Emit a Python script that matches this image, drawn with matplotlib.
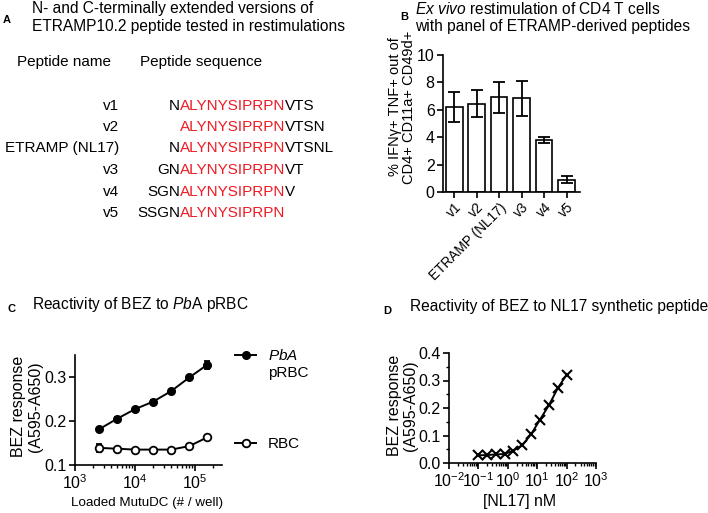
import numpy as np
import matplotlib
matplotlib.use("Agg")
import matplotlib.pyplot as plt
from matplotlib.ticker import LogLocator, NullFormatter, MultipleLocator

plt.rcParams['font.family'] = ['Liberation Sans', 'DejaVu Sans']
plt.rcParams['mathtext.fontset'] = 'custom'
plt.rcParams['mathtext.rm'] = 'Liberation Sans'
plt.rcParams['mathtext.it'] = 'Liberation Sans:italic'
plt.rcParams['mathtext.default'] = 'regular'

# ---- painel A: sequencias
pep_names = ["v1", "v2", "ETRAMP (NL17)", "v3", "v4", "v5"]
pep_pre = ["N", "", "N", "GN", "SGN", "SSGN"]
pep_core = "ALYNYSIPRPN"
pep_post = ["VTS", "VTSN", "VTSNL", "VT", "V", ""]

# ---- painel B: restimulacao
bar_labels = ["v1", "v2", "ETRAMP (NL17)", "v3", "v4", "v5"]
bar_mean = [6.2, 6.45, 6.9, 6.85, 3.8, 0.9]
bar_err = [1.07, 0.98, 1.15, 1.28, 0.22, 0.25]

# ---- painel C: BEZ vs pRBC
cells = [2500, 5000, 10000, 20000, 40000, 80000, 160000]
prbc = [0.181, 0.205, 0.227, 0.244, 0.268, 0.299, 0.328]
prbc_err = [0.003, 0.003, 0.003, 0.003, 0.003, 0.003, 0.009]
rbc = [0.139, 0.137, 0.135, 0.135, 0.135, 0.143, 0.163]
rbc_err = [0.009, 0.002, 0.002, 0.002, 0.002, 0.003, 0.003]

# ---- painel D: BEZ vs NL17
nl17_conc = [0.098, 0.195, 0.39, 0.78, 1.56, 3.125, 6.25, 12.5, 25, 50, 100]
nl17_resp = [0.028, 0.029, 0.031, 0.033, 0.045, 0.065, 0.105, 0.158, 0.21, 0.272, 0.321]

RED = '#ec1c24'
FS_TITLE = 11.2
FS_TXT = 11
FS_TICK = 11.5
W, H = 708, 513
fig = plt.figure(figsize=(W / 100, H / 100), dpi=100)


def add_ax(l, t, r, b):
    # coordenadas em pixels da figura
    return fig.add_axes([l / W, 1 - b / H, (r - l) / W, (b - t) / H])


def fy(y):
    return 1 - y / H


def style(ax):
    for s in ['top', 'right']:
        ax.spines[s].set_visible(False)
    for s in ['left', 'bottom']:
        ax.spines[s].set_linewidth(1.2)
    ax.tick_params(which='major', direction='out', length=4, width=1.2, labelsize=FS_TICK, pad=2)
    ax.tick_params(which='minor', direction='out', length=2.2, width=1.0)


# ============================================
#  PAINEL A
# ============================================
fig.text(3 / W, fy(20), "A", fontsize=8, fontweight='bold', va='center')
fig.text(32 / W, fy(9), "N- and C-terminally extended versions of", fontsize=FS_TITLE, va='center')
fig.text(32 / W, fy(26), "ETRAMP10.2 peptide tested in restimulations", fontsize=FS_TITLE, va='center')
fig.text(17 / W, fy(62), "Peptide name", fontsize=FS_TXT, va='center')
fig.text(140 / W, fy(62), "Peptide sequence", fontsize=FS_TXT, va='center')

row_y = [106, 127, 148, 170, 192, 213]
for name, pre, post, y in zip(pep_names, pep_pre, pep_post, row_y):
    fig.text(119 / W, fy(y), name, fontsize=FS_TXT, ha='right', va='center')
    core = fig.text(180 / W, fy(y), pep_core, fontsize=FS_TXT, ha='left', va='center', color=RED)
    if pre:
        fig.add_artist(plt.Annotation(pre, xy=(0, 0), xycoords=core, ha='right', va='bottom',
                                      fontsize=FS_TXT))
    if post:
        fig.add_artist(plt.Annotation(post, xy=(1, 0), xycoords=core, ha='left', va='bottom',
                                      fontsize=FS_TXT))

# ============================================
#  PAINEL B
# ============================================
fig.text(400 / W, fy(17), "B", fontsize=8, fontweight='bold', va='center')
fig.text(415 / W, fy(9), r"$\it{Ex\ vivo}$ restimulation of CD4 T cells", fontsize=FS_TITLE, va='center')
fig.text(415 / W, fy(27), "with panel of ETRAMP-derived peptides", fontsize=FS_TITLE, va='center')

axB = add_ax(443, 55, 580, 192)
style(axB)
xb = np.arange(len(bar_mean))
axB.bar(xb, bar_mean, width=0.74, color='white', edgecolor='black', linewidth=1.2)
axB.errorbar(xb, bar_mean, yerr=bar_err, fmt='none', ecolor='black', elinewidth=1.3,
             capsize=4, capthick=1.3)
axB.set_xlim(-0.5, 5.6)
axB.set_ylim(0, 10)
axB.yaxis.set_major_locator(MultipleLocator(2))
axB.set_xticks(xb)
axB.set_xticklabels(bar_labels, rotation=45, ha='right', rotation_mode='anchor', fontsize=9.8)
axB.set_ylabel("% IFN\u03b3+ TNF+ out of\nCD4+ CD11a+ CD49d+", fontsize=10.5, linespacing=1.0)
axB.yaxis.set_label_coords(-0.2, 0.62)

# ============================================
#  PAINEL C
# ============================================
fig.text(8 / W, fy(309), "C", fontsize=8, fontweight='bold', va='center')
fig.text(32 / W, fy(305), r"Reactivity of BEZ to $\it{Pb}$A pRBC", fontsize=FS_TITLE, va='center')

axC = add_ax(75, 355, 222, 465)
style(axC)
axC.errorbar(cells, prbc, yerr=prbc_err, fmt='none', ecolor='black', elinewidth=1.3,
             capsize=2.5, capthick=1.3, zorder=2)
axC.errorbar(cells, rbc, yerr=rbc_err, fmt='none', ecolor='black', elinewidth=1.3,
             capsize=2.5, capthick=1.3, zorder=2)
l1, = axC.plot(cells, prbc, '-o', color='black', lw=1.4, ms=5.5, zorder=3)
l2, = axC.plot(cells, rbc, '-o', color='black', lw=1.4, ms=5.5, mfc='white', mew=1.3, zorder=3)
axC.set_xscale('log')
axC.set_xlim(1e3, 2.8e5)
axC.set_ylim(0.1, 0.35)
axC.set_yticks([0.1, 0.2, 0.3])
axC.xaxis.set_major_locator(LogLocator(base=10, numticks=10))
axC.xaxis.set_minor_locator(LogLocator(base=10, subs=np.arange(2, 10), numticks=10))
axC.xaxis.set_minor_formatter(NullFormatter())
axC.set_ylabel("BEZ response\n(A595-A650)", fontsize=11.5, linespacing=1.1)
axC.yaxis.set_label_coords(-0.22, 0.53)
axC.set_xlabel("Loaded MutuDC (# / well)", fontsize=9.6)
axC.xaxis.set_label_coords(0.49, -0.29)

leg = axC.legend([l1, l2], [r"$\it{PbA}$", "RBC"], loc='upper left',
                 bbox_to_anchor=(235 / W, fy(348)), bbox_transform=fig.transFigure,
                 frameon=False, labelspacing=4.85, handlelength=1.4, handletextpad=0.75,
                 borderpad=0, borderaxespad=0, fontsize=11)
axC.annotate("pRBC", xy=(0, 0), xycoords=leg.get_texts()[0], xytext=(0, -2.5),
             textcoords='offset points', ha='left', va='top', fontsize=11, zorder=6)

# ============================================
#  PAINEL D
# ============================================
fig.text(383 / W, fy(311), "D", fontsize=8, fontweight='bold', va='center')
fig.text(410 / W, fy(307), "Reactivity of BEZ to NL17 synthetic peptide", fontsize=FS_TITLE, va='center')

axD = add_ax(449, 353, 596, 463)
style(axD)
axD.plot(nl17_conc, nl17_resp, '-x', color='black', lw=1.4, ms=7, mew=1.5)
axD.set_xscale('log')
axD.set_xlim(1e-2, 1e3)
axD.set_ylim(0, 0.4)
axD.yaxis.set_major_locator(MultipleLocator(0.1))
axD.yaxis.set_minor_locator(MultipleLocator(0.05))
axD.yaxis.set_major_formatter(plt.FormatStrFormatter('%.1f'))
axD.xaxis.set_major_locator(LogLocator(base=10, numticks=10))
axD.xaxis.set_minor_locator(LogLocator(base=10, subs=np.arange(2, 10), numticks=10))
axD.xaxis.set_minor_formatter(NullFormatter())
axD.set_ylabel("BEZ response\n(A595-A650)", fontsize=11.5, linespacing=1.1)
axD.yaxis.set_label_coords(-0.21, 0.52)
axD.set_xlabel("[NL17] nM", fontsize=11.4)
axD.xaxis.set_label_coords(0.48, -0.28)

fig.savefig("out.png", dpi=100)
